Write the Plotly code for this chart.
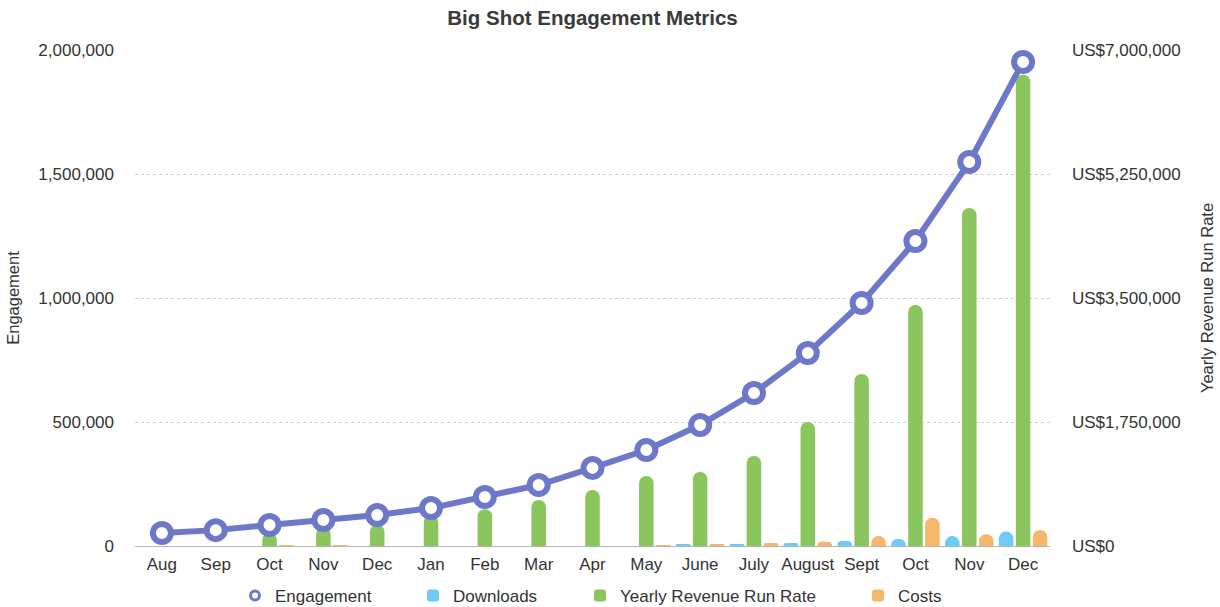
import plotly.graph_objects as go

months = ["Aug", "Sep", "Oct", "Nov", "Dec", "Jan", "Feb", "Mar", "Apr", "May",
          "June", "July", "August", "Sept", "Oct", "Nov", "Dec"]
engagement = [52000, 64000, 85000, 105000, 125000, 153000, 198000, 246000, 315000,
              387000, 488000, 617000, 778000, 980000, 1230000, 1548000, 1952000]
downloads = [0, 0, 0, 0, 0, 0, 0, 0, 0, 0, 5000, 8000, 12000, 20000, 28000, 40000, 58000]
revenue = [0, 0, 183000, 268000, 300000, 437000, 520000, 649000, 790000, 988000,
           1044000, 1270000, 1750000, 2427000, 3401000, 4770000, 6650000]
costs = [0, 0, 14000, 14000, 0, 0, 0, 0, 0, 14000, 28000, 42000, 60000, 140000,
         400000, 165000, 225000]
left_ticks = [0, 500000, 1000000, 1500000, 2000000]
right_ticks = [0, 1750000, 3500000, 5250000, 7000000]
right_labels = ["US$0", "US$1,750,000", "US$3,500,000", "US$5,250,000", "US$7,000,000"]

x = list(range(len(months)))
PURPLE = "#6e78c8"
GREEN = "#8bc55e"
BLUE = "#6ecbf5"
ORANGE = "#f5b76b"
FONT = "Liberation Sans"
TXT = "#333333"

W, H = 1220, 607
L, R, T, B = 135, 170, 50, 61
PW = W - L - R
PH = H - T - B


def lx(px):
    return (px - L) / PW


def ly(py):
    return (H - B - py) / PH


bw = 0.27
fig = go.Figure()
fig.add_trace(go.Bar(x=x, y=downloads, name="Downloads",
                     marker=dict(color=BLUE, cornerradius="50%", line=dict(width=0)),
                     width=bw, offset=-0.45, yaxis="y", legend="legend2"))
fig.add_trace(go.Bar(x=x, y=revenue, name="Yearly Revenue Run Rate",
                     marker=dict(color=GREEN, cornerradius="50%", line=dict(width=0)),
                     width=bw, offset=-0.135, yaxis="y2", legend="legend3"))
fig.add_trace(go.Bar(x=x, y=costs, name="Costs",
                     marker=dict(color=ORANGE, cornerradius="50%", line=dict(width=0)),
                     width=bw, offset=0.18, yaxis="y2", legend="legend4"))
fig.add_trace(go.Scatter(x=x, y=engagement, name="Engagement", mode="lines+markers",
                         line=dict(color=PURPLE, width=6),
                         marker=dict(symbol="circle", size=18, color="white",
                                     line=dict(color=PURPLE, width=6)),
                         yaxis="y3", cliponaxis=False, showlegend=False))
# legend-only entry for the engagement series (marker symbol only)
fig.add_trace(go.Scatter(x=[None], y=[None], name="Engagement", mode="markers",
                         marker=dict(symbol="circle", size=9, color="white",
                                     line=dict(color=PURPLE, width=3)),
                         yaxis="y3", legend="legend"))

leg_common = dict(orientation="h", yanchor="middle", xanchor="left",
                  font=dict(family=FONT, size=17, color=TXT), bgcolor="rgba(0,0,0,0)",
                  itemwidth=30)
text_starts = {"legend": 275, "legend2": 453, "legend3": 620, "legend4": 898}
legends = {}
for k, tx in text_starts.items():
    legends[k] = dict(leg_common, x=lx(tx - 40), y=ly(596))

fig.update_layout(
    width=W, height=H,
    margin=dict(l=L, r=R, t=T, b=B, autoexpand=False),
    paper_bgcolor="white", plot_bgcolor="white",
    font=dict(family=FONT, size=17, color=TXT),
    title=dict(text="<b>Big Shot Engagement Metrics</b>", x=0.5, xanchor="center", xref="paper",
               y=1 - 18 / H, yanchor="middle", yref="container",
               font=dict(family=FONT, size=20.5, color="#3a3a3a")),
    barmode="overlay",
    showlegend=True,
    **legends,
    xaxis=dict(range=[-0.5, 16.5], tickvals=x, ticktext=months, showgrid=False,
               showline=True, linecolor="#b5b5b5", linewidth=1, ticks="", zeroline=False,
               automargin=False, ticklabelstandoff=3,
               tickfont=dict(size=17, color=TXT)),
    yaxis=dict(range=[0, 2000000], tickvals=left_ticks,
               tickformat=",d", showgrid=True, gridcolor="#cfcfcf", griddash="dot", gridwidth=1,
               zeroline=False, showline=False, ticks="", ticklabelstandoff=20,
               automargin=False,
               title=dict(text="Engagement", font=dict(size=16.5, color=TXT), standoff=14),
               tickfont=dict(size=17, color=TXT)),
    yaxis2=dict(range=[0, 7000000], overlaying="y", side="right",
                tickvals=right_ticks, ticktext=right_labels,
                showgrid=False, zeroline=False, ticks="", ticklabelstandoff=21,
                automargin=False,
                title=dict(text="Yearly Revenue Run Rate", font=dict(size=16.5, color=TXT), standoff=21),
                tickfont=dict(size=17, color=TXT)),
    yaxis3=dict(range=[0, 2000000], overlaying="y", visible=False, showgrid=False),
)

fig.write_html("out.html", config={"displayModeBar": False},
               post_script="document.body.style.margin='0';document.body.style.padding='0';")
